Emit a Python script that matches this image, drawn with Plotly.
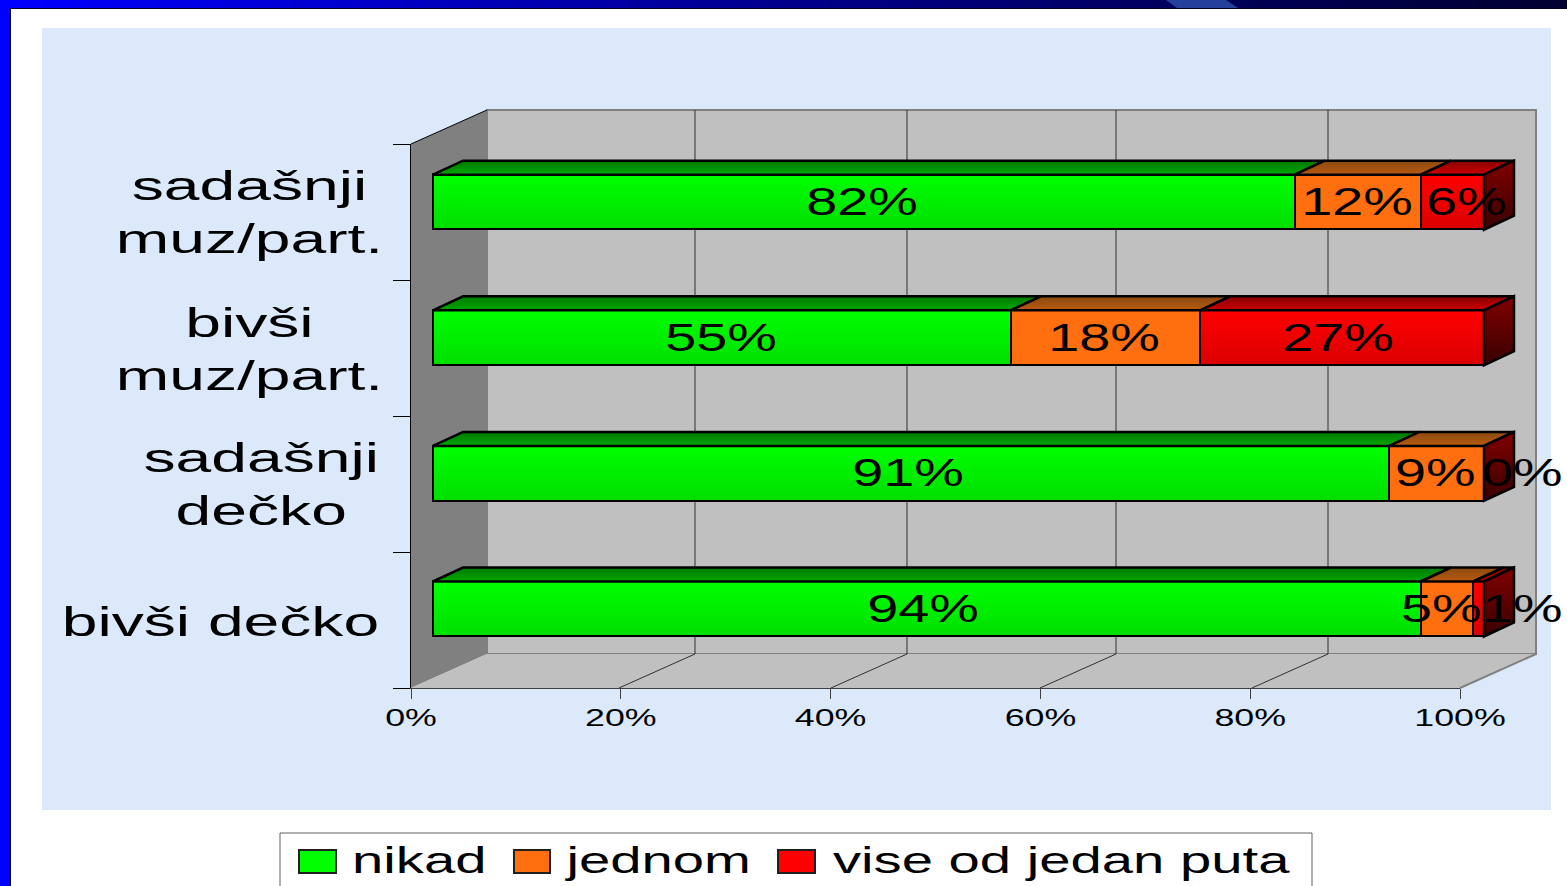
import plotly.graph_objects as go

W, H = 1567, 886
categories = ["bivši dečko", "sadašnji<br>dečko", "bivši<br>muz/part.", "sadašnji<br>muz/part."]
nikad = [94, 91, 55, 82]
jednom = [5, 9, 18, 12]
vise = [1, 0, 27, 6]
series_names = ["nikad", "jednom", "vise od jedan puta"]
series_values = [nikad, jednom, vise]
front_colors = ["#00FF00", "#FF6F10", "#FF0000"]
top_colors = [("#00A800", "#007800"), ("#B85A10", "#8A4A10"), ("#CC0000", "#880000")]
front_shade = [0.13, 0.0, 0.14]
tick_values = [0, 20, 40, 60, 80, 100]
tick_labels = ["0%", "20%", "40%", "60%", "80%", "100%"]
label_shift = {(0, 2): 43, (0, 1): -6, (0, 0): -4, (1, 0): -3, (1, 1): -2, (1, 2): 38,
               (2, 0): -1, (2, 1): -2, (2, 2): -4, (3, 0): -2, (3, 1): -1, (3, 2): 14}
cat_centres = [(220, 622), (261, 485), (249, 349), (249, 213)]

FONT = "Liberation Sans"
px_x = lambda p: p / W
px_y = lambda p: 1 - p / H
X0, X100 = 433, 1484
XS = (X100 - X0) / 100
YS = 135.6
Y0 = 609
BAR = 55 / YS
DX, DY = 30 / XS, 14 / YS

fig = go.Figure()

# front faces
for name, vals, col in zip(series_names, series_values, front_colors):
    fig.add_trace(go.Bar(name=name, y=list(range(4)), x=vals, orientation="h", width=BAR,
                         marker=dict(color=col, line=dict(color="black", width=2.5)),
                         showlegend=False, hoverinfo="skip"))

# 3D faces
def poly(xs, ys, c_low, c_high, line=True):
    fig.add_trace(go.Scatter(x=xs + xs[:1], y=ys + ys[:1], mode="lines", fill="toself",
                             line=dict(color="black", width=2.5 if line else 0),
                             fillgradient=dict(type="vertical", colorscale=[[0, c_low], [1, c_high]]),
                             showlegend=False, hoverinfo="skip"))

for i in range(4):
    left = 0
    top, bot = i + BAR / 2, i - BAR / 2
    for s, vals in enumerate(series_values):
        v = vals[i]
        if v > 0:
            poly([left, left + v, left + v + DX, left + DX], [top, top, top + DY, top + DY],
                 top_colors[s][0], top_colors[s][1])
            if front_shade[s] > 0:
                a = front_shade[s]
                poly([left, left + v, left + v, left], [top, top, bot, bot],
                     f"rgba(0,0,0,{a})", "rgba(0,0,0,0)", line=False)
        left += v
    poly([100, 100 + DX, 100 + DX, 100], [top, top + DY, bot + DY, bot], "#3A0000", "#800000")

# floor axes carrier
fig.add_trace(go.Scatter(x=[0, 100], y=[0, 0], xaxis="x2", yaxis="y2", mode="lines",
                         line=dict(color="rgba(0,0,0,0)", width=0), showlegend=False, hoverinfo="skip"))

shapes = []
def rect(x0, y0, x1, y1, fill, line=None, width=0, layer="below"):
    shapes.append(dict(type="rect", xref="paper", yref="paper", x0=px_x(x0), x1=px_x(x1), y0=px_y(y0), y1=px_y(y1),
                       fillcolor=fill, line=dict(color=line or fill, width=width), layer=layer))
def path(pts, fill=None, line=None, width=0, layer="below"):
    d = "M" + " L".join(f"{px_x(a):.5f},{px_y(b):.5f}" for a, b in pts) + (" Z" if fill else "")
    s = dict(type="path", xref="paper", yref="paper", path=d, line=dict(color=line or "rgba(0,0,0,0)", width=width), layer=layer)
    if fill:
        s["fillcolor"] = fill
    shapes.append(s)

# slide frame
rect(42, 28, 1551, 810, "#DBE9FB")
N = 70
for k in range(N):
    t = k / (N - 1)
    if t < 0.5:
        c = (0, 0, int(255 - (255 - 140) * t / 0.5))
    else:
        c = (0, 0, int(140 - (140 - 50) * (t - 0.5) / 0.5))
    rect(W * k / N, 0, W * (k + 1) / N + 1, 8, f"rgb{c}")
path([(1166, 0), (1226, 0), (1238, 8), (1177, 8)], fill="#25409C")
rect(0, 8, W, 9, "#000033")
rect(0, 0, 10, H, "#0000FF")
rect(10, 8, 11, H, "#000033")

# walls
path([(411, 144), (487, 110), (487, 654), (411, 688)], fill="#808080")
rect(487, 110, 1536, 654, "#C0C0C0", line="#808080", width=2)
path([(411, 688), (487, 654), (1536, 654), (1460, 688)], fill="#C0C0C0")
path([(1536, 110), (1536, 654), (1460, 688)], line="#808080", width=2)
path([(411, 144), (487, 110)], line="#000000", width=1)
for a, b in [(695, 619), (907, 831), (1116, 1040), (1328, 1252)]:
    path([(a, 110), (a, 654)], line="#303030", width=1)
    path([(b, 688), (a, 654)], line="#303030", width=1)

annotations = []
def text(x, y, s, size):
    annotations.append(dict(x=x, y=y, xref="paper", yref="paper", text=s, showarrow=False,
                            xanchor="center", yanchor="middle", align="center",
                            font=dict(family=FONT, size=size, color="black")))

# category labels
for cat, (cx, cy) in zip(categories, cat_centres):
    text(px_x(cx), px_y(cy), cat, 41)

# value labels
for i in range(4):
    left = 0
    for s, vals in enumerate(series_values):
        v = vals[i]
        annotations.append(dict(x=left + v / 2, y=i, xref="x", yref="y", text=f"{v}%", showarrow=False,
                                xanchor="center", yanchor="middle", xshift=label_shift[(i, s)], yshift=0.5,
                                font=dict(family=FONT, size=39, color="black")))
        left += v

# legend
rect(280, 833, 1312, 900, "white", line="#606060", width=1)
swatches = [(299, 336), (514, 550), (778, 815)]
legend_centres = [419, 658, 1061]
for (a, b), c, name, col in zip(swatches, legend_centres, series_names, front_colors):
    rect(a, 850, b, 873, col, line="#202020", width=2)
    text(px_x(c), px_y(860), name, 37)

fig.update_layout(
    width=W, height=H, autosize=False, margin=dict(l=0, r=0, t=0, b=0, autoexpand=False),
    paper_bgcolor="white", plot_bgcolor="rgba(0,0,0,0)", barmode="stack", bargap=0,
    shapes=shapes, annotations=annotations,
    xaxis=dict(domain=[px_x(411), px_x(1536)], range=[(411 - X0) / XS, (1536 - X0) / XS], visible=False, fixedrange=True),
    yaxis=dict(domain=[px_y(Y0 + 0.5 * YS), px_y(Y0 - 3.5 * YS)], range=[-0.5, 3.5], visible=False, fixedrange=True),
    xaxis2=dict(domain=[px_x(411), px_x(1460)], range=[0, 100], anchor="y2",
                tickvals=tick_values, ticktext=tick_labels, ticks="outside", ticklen=10, tickcolor="#404040",
                ticklabelstandoff=-2,
                showgrid=False, zeroline=False, showline=True, linecolor="#404040", linewidth=1,
                tickfont=dict(family=FONT, size=24, color="black"), fixedrange=True),
    yaxis2=dict(domain=[px_y(688), px_y(144)], range=[0, 4], anchor="x2",
                tickvals=[0, 1, 2, 3, 4], showticklabels=False, ticks="outside", ticklen=17, tickcolor="#000000",
                showgrid=False, zeroline=False, showline=True, linecolor="#000000", linewidth=1, fixedrange=True),
)

# the reference's lettering is horizontally stretched Arial
post = """
document.body.style.margin = '0';
function stretch(el, k) {
  var n = el.getComputedTextLength();
  if (n > 0) { el.setAttribute('lengthAdjust', 'spacingAndGlyphs'); el.setAttribute('textLength', n * k); }
}
document.querySelectorAll('.x2tick text').forEach(function (t) { stretch(t, 1.49); });
document.querySelectorAll('text.annotation-text').forEach(function (t) {
  var size = parseFloat(t.style.fontSize);
  var k = size > 40 ? 1.565 : (size > 38 ? 1.43 : 1.52);
  var lines = t.querySelectorAll('tspan.line');
  if (lines.length) { lines.forEach(function (l) { stretch(l, k); }); } else { stretch(t, k); }
});
"""
fig.write_html("out.html", post_script=post, config=dict(displayModeBar=False))
